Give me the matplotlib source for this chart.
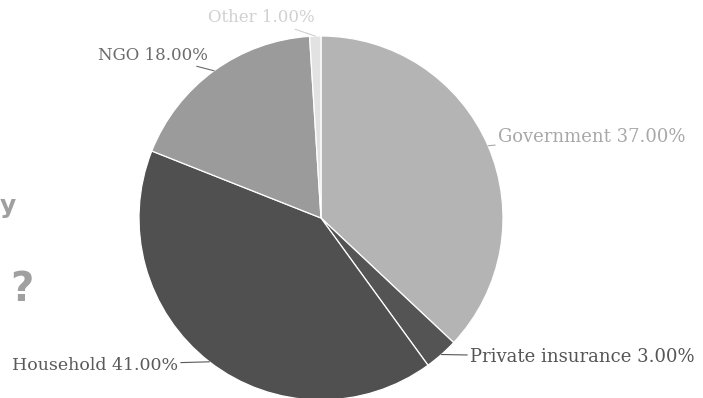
import numpy as np
import matplotlib
matplotlib.use("Agg")
import matplotlib.pyplot as plt

labels = ["Government", "Private insurance", "Household", "NGO", "Other"]
values = [37.0, 3.0, 41.0, 18.0, 1.0]
colors = ["#b4b4b4", "#545454", "#505050", "#9b9b9b", "#e2e2e2"]
label_colors = ["#a8a8a8", "#555555", "#5a5a5a", "#6a6a6a", "#d0d0d0"]

# where each label text goes (pixels, y from the bottom) and its alignment
text_pos = [(498, 261), (470, 41), (178, 33), (208, 343), (315, 380)]
text_ha = ["left", "left", "right", "right", "right"]
text_size = [13, 13, 12.5, 12, 12]

W, H = 703, 398
fig = plt.figure(figsize=(W / 100, H / 100), dpi=100)
ax = fig.add_axes([0, 0, 1, 1])

cx, cy, r = 321, 180, 182
wedges, _ = ax.pie(values, colors=colors, startangle=90, counterclock=False,
                   center=(cx, cy), radius=r, frame=True,
                   wedgeprops=dict(edgecolor="white", linewidth=0.9))
ax.set_xlim(0, W)
ax.set_ylim(0, H)
ax.axis("off")

for w, lab, v, col, pos, ha, fs in zip(wedges, labels, values, label_colors,
                                       text_pos, text_ha, text_size):
    mid = np.deg2rad((w.theta1 + w.theta2) / 2)
    ex, ey = cx + r * np.cos(mid), cy + r * np.sin(mid)
    ax.annotate(f"{lab} {v:.2f}%", xy=(ex, ey), xytext=pos, ha=ha, va="center",
                fontsize=fs, family="DejaVu Serif", color=col,
                arrowprops=dict(arrowstyle="-", color=col, lw=0.8,
                                shrinkA=0, shrinkB=0))

# background fragments on the left edge
ax.text(22, 108, "?", fontsize=29, fontweight="bold", color="#a0a0a0",
        ha="center", va="center", family="DejaVu Sans")
ax.text(0, 192, "y", fontsize=18, fontweight="bold", color="#a0a0a0",
        ha="left", va="center", family="DejaVu Sans")

fig.savefig("out.png", dpi=100)
